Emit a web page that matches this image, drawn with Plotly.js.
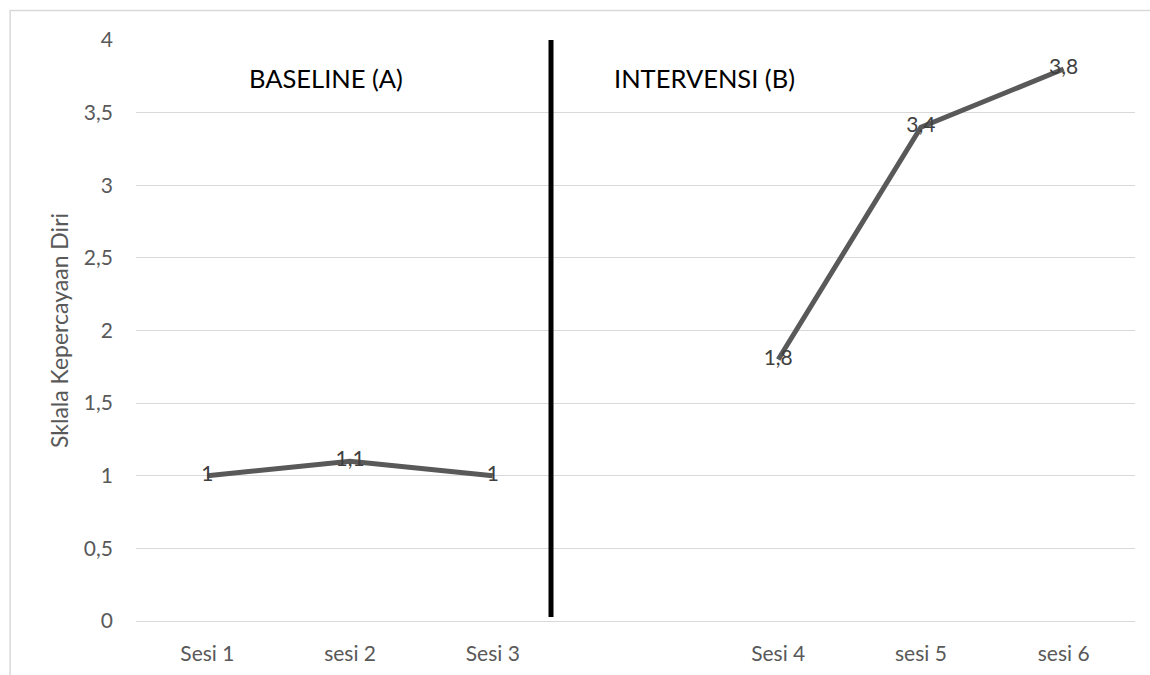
<!DOCTYPE html>
<html>
<head>
<meta charset="utf-8">
<script src="https://cdn.plot.ly/plotly-3.0.1.min.js"></script>
<style>
  html, body { margin: 0; padding: 0; background: #ffffff; }
  #chart { width: 1150px; height: 675px; }
</style>
</head>
<body>
<div id="chart"></div>
<script>
// Categories (one empty slot separates baseline from intervention)
const categories = ['Sesi 1', 'sesi 2', 'Sesi 3', ' ', 'Sesi 4', 'sesi 5', 'sesi 6'];
// Skala Kepercayaan Diri per session (null = gap)
const values = [1, 1.1, 1, null, 1.8, 3.4, 3.8];
// Y tick values
const yTicks = [0, 0.5, 1, 1.5, 2, 2.5, 3, 3.5, 4];
// Phase labels
const phaseLabels = ['BASELINE (A)', 'INTERVENSI (B)'];

const fmt = v => (v === null ? '' : String(v).replace('.', ','));
const labelText = values.map(fmt);

const trace = {
  type: 'scatter',
  mode: 'lines+text',
  x: categories,
  y: values,
  text: labelText,
  textposition: 'middle center',
  textfont: { family: 'Lato, "Open Sans", sans-serif', size: 21, color: '#404040' },
  line: { color: '#595959', width: 5 },
  connectgaps: false,
  hoverinfo: 'x+y',
  cliponaxis: false,
  showlegend: false
};

const layout = {
  width: 1150,
  height: 675,
  margin: { l: 136, r: 15, t: 40, b: 54 },
  paper_bgcolor: '#ffffff',
  plot_bgcolor: '#ffffff',
  separators: ', ',
  font: { family: 'Lato, "Open Sans", sans-serif', color: '#595959' },
  xaxis: {
    type: 'category',
    categoryorder: 'array',
    categoryarray: categories,
    range: [-0.5, categories.length - 0.5],
    showgrid: false,
    zeroline: false,
    showline: false,
    ticks: '',
    ticklabelstandoff: 18,
    tickfont: { size: 21, color: '#595959' },
    fixedrange: true
  },
  yaxis: {
    range: [0, 4],
    tickvals: yTicks,
    ticktext: yTicks.map(v => String(v).replace('.', ',')),
    showgrid: true,
    gridcolor: '#d9d9d9',
    gridwidth: 1,
    zeroline: true,
    zerolinecolor: '#d9d9d9',
    zerolinewidth: 1,
    showline: false,
    ticks: '',
    ticklabelstandoff: 22,
    tickfont: { size: 21, color: '#595959' },
    title: { text: 'Sklala Kepercayaan Diri', font: { size: 23, color: '#595959' }, standoff: 8 },
    fixedrange: true
  },
  shapes: [
    // phase divider
    { type: 'line', xref: 'x', yref: 'y', x0: 2.408, x1: 2.408, y0: 0.028, y1: 4.023,
      line: { color: '#000000', width: 5 } },
    // outer chart border
    { type: 'rect', xref: 'paper', yref: 'paper', x0: -0.126, x1: 1.2, y0: -0.2, y1: 1.0509,
      line: { color: '#d9d9d9', width: 1.5 }, fillcolor: 'rgba(0,0,0,0)', layer: 'below' }
  ],
  annotations: [
    { text: phaseLabels[0], xref: 'x', yref: 'y', x: 0.83, y: 3.74, showarrow: false,
      font: { size: 25.5, color: '#000000' }, xanchor: 'center', yanchor: 'middle' },
    { text: phaseLabels[1], xref: 'x', yref: 'y', x: 3.48, y: 3.74, showarrow: false,
      font: { size: 25.5, color: '#000000' }, xanchor: 'center', yanchor: 'middle' }
  ]
};

Plotly.newPlot('chart', [trace], layout, { displayModeBar: false, staticPlot: true });
</script>
</body>
</html>
